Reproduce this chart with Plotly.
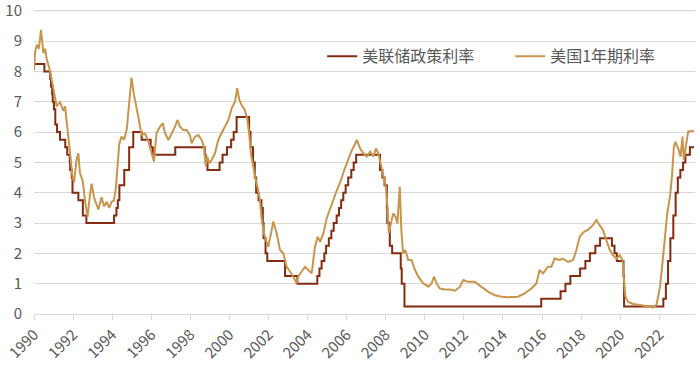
import plotly.graph_objects as go

# 美联储政策利率 (step changes: decimal year, rate %)
fed_years = [1990.00, 1990.53, 1990.83, 1990.87, 1990.93, 1990.96, 1991.02, 1991.09, 1991.18, 1991.33,
             1991.60, 1991.70, 1991.83, 1991.85, 1991.93, 1991.97, 1992.27, 1992.50, 1992.68, 1994.10,
             1994.22, 1994.29, 1994.37, 1994.62, 1994.87, 1995.08, 1995.51, 1995.97, 1996.08, 1997.23,
             1998.74, 1998.79, 1998.88, 1999.50, 1999.65, 1999.88, 2000.09, 2000.22, 2000.37, 2001.01,
             2001.08, 2001.21, 2001.30, 2001.37, 2001.49, 2001.64, 2001.71, 2001.75, 2001.85, 2001.94,
             2002.85, 2003.48, 2004.50, 2004.61, 2004.72, 2004.86, 2004.95, 2005.09, 2005.22, 2005.34,
             2005.49, 2005.61, 2005.72, 2005.83, 2005.95, 2006.08, 2006.24, 2006.36, 2006.49, 2007.71,
             2007.83, 2007.94, 2008.06, 2008.08, 2008.21, 2008.33, 2008.77, 2008.82, 2008.96, 2015.96,
             2016.95, 2017.20, 2017.45, 2017.95, 2018.22, 2018.45, 2018.73, 2018.97, 2019.58, 2019.71,
             2019.83, 2020.17, 2020.20, 2022.21, 2022.34, 2022.45, 2022.57, 2022.72, 2022.84, 2022.95,
             2023.08, 2023.22, 2023.34, 2023.57, 2023.78]
fed_rates = [8.25, 8.00, 7.75, 7.50, 7.25, 7.00, 6.75, 6.25, 6.00, 5.75,
             5.50, 5.25, 5.00, 4.75, 4.50, 4.00, 3.75, 3.25, 3.00, 3.25,
             3.50, 3.75, 4.25, 4.75, 5.50, 6.00, 5.75, 5.50, 5.25, 5.50,
             5.25, 5.00, 4.75, 5.00, 5.25, 5.50, 5.75, 6.00, 6.50, 6.00,
             5.50, 5.00, 4.50, 4.00, 3.75, 3.50, 3.00, 2.50, 2.00, 1.75,
             1.25, 1.00, 1.25, 1.50, 1.75, 2.00, 2.25, 2.50, 2.75, 3.00,
             3.25, 3.50, 3.75, 4.00, 4.25, 4.50, 4.75, 5.00, 5.25, 4.75,
             4.50, 4.25, 3.50, 3.00, 2.25, 2.00, 1.50, 1.00, 0.25, 0.50,
             0.75, 1.00, 1.25, 1.50, 1.75, 2.00, 2.25, 2.50, 2.25, 2.00,
             1.75, 1.25, 0.25, 0.50, 1.00, 1.75, 2.50, 3.25, 4.00, 4.50,
             4.75, 5.00, 5.25, 5.50, 5.50]

# 美国1年期利率 (decimal year, yield %)
ust_years = [1990.00, 1990.06, 1990.15, 1990.25, 1990.36, 1990.48, 1990.57, 1990.65, 1990.81, 1990.96,
             1991.08, 1991.16, 1991.33, 1991.50, 1991.59, 1991.67, 1991.81, 1991.88, 1991.96, 1992.05,
             1992.18, 1992.27, 1992.35, 1992.49, 1992.61, 1992.74, 1992.87, 1992.95, 1993.07, 1993.21,
             1993.29, 1993.46, 1993.58, 1993.72, 1993.85, 1993.97, 1994.09, 1994.19, 1994.26, 1994.36,
             1994.48, 1994.61, 1994.75, 1994.88, 1994.99, 1995.11, 1995.25, 1995.37, 1995.51, 1995.68,
             1995.85, 1996.02, 1996.14, 1996.27, 1996.45, 1996.59, 1996.71, 1996.88, 1997.05, 1997.22,
             1997.34, 1997.47, 1997.64, 1997.81, 1997.98, 1998.07, 1998.24, 1998.41, 1998.58, 1998.70,
             1998.80, 1998.87, 1998.97, 1999.09, 1999.26, 1999.43, 1999.60, 1999.78, 1999.95, 2000.12,
             2000.29, 2000.40, 2000.51, 2000.62, 2000.79, 2000.91, 2001.01, 2001.10, 2001.22, 2001.35,
             2001.47, 2001.56, 2001.66, 2001.77, 2001.87, 2001.99, 2002.13, 2002.25, 2002.42, 2002.59,
             2002.76, 2002.93, 2003.10, 2003.27, 2003.44, 2003.52, 2003.70, 2003.87, 2004.04, 2004.21,
             2004.38, 2004.52, 2004.64, 2004.81, 2004.98, 2005.15, 2005.32, 2005.44, 2005.58, 2005.71,
             2005.88, 2006.06, 2006.23, 2006.40, 2006.52, 2006.69, 2006.86, 2007.03, 2007.20, 2007.37,
             2007.50, 2007.62, 2007.77, 2007.89, 2008.01, 2008.09, 2008.16, 2008.27, 2008.39, 2008.50,
             2008.60, 2008.72, 2008.80, 2008.89, 2009.01, 2009.15, 2009.32, 2009.50, 2009.67, 2009.92,
             2010.18, 2010.35, 2010.47, 2010.60, 2010.77, 2011.03, 2011.29, 2011.55, 2011.80, 2011.97,
             2012.22, 2012.56, 2012.91, 2013.25, 2013.59, 2013.93, 2014.26, 2014.77, 2015.11, 2015.46,
             2015.71, 2015.88, 2016.05, 2016.31, 2016.48, 2016.65, 2016.90, 2017.07, 2017.33, 2017.59,
             2017.76, 2017.93, 2018.15, 2018.35, 2018.61, 2018.78, 2018.95, 2019.12, 2019.29, 2019.47,
             2019.63, 2019.81, 2019.98, 2020.12, 2020.21, 2020.27, 2020.41, 2020.67, 2021.01, 2021.35,
             2021.69, 2021.86, 2022.04, 2022.18, 2022.29, 2022.41, 2022.55, 2022.65, 2022.75, 2022.82,
             2022.97, 2023.09, 2023.19, 2023.26, 2023.36, 2023.48, 2023.78]
ust_rates = [8.05, 8.66, 8.88, 8.75, 9.37, 8.60, 8.75, 8.40, 8.05, 7.50,
             7.20, 6.85, 7.00, 6.70, 6.85, 6.40, 5.65, 5.10, 4.55, 4.35,
             5.10, 5.30, 4.65, 4.40, 3.75, 3.20, 3.95, 4.30, 3.85, 3.55,
             3.45, 3.85, 3.55, 3.70, 3.50, 3.70, 3.75, 4.15, 4.80, 5.60,
             5.85, 5.75, 6.10, 7.10, 7.80, 7.25, 6.85, 6.40, 5.90, 5.95,
             5.70, 5.35, 5.03, 5.96, 6.18, 6.29, 5.96, 5.74, 5.96, 6.18,
             6.40, 6.18, 6.07, 6.07, 5.90, 5.63, 5.85, 5.90, 5.74, 5.52,
             4.86, 5.19, 4.97, 5.08, 5.30, 5.74, 5.96, 6.18, 6.40, 6.79,
             7.00, 7.45, 7.06, 6.90, 6.73, 6.45, 5.96, 5.30, 4.86, 4.42,
             4.09, 3.76, 3.10, 2.66, 2.44, 2.22, 2.66, 3.05, 2.66, 2.11,
             2.00, 1.56, 1.40, 1.23, 1.01, 1.23, 1.40, 1.56, 1.45, 1.34,
             2.22, 2.55, 2.38, 2.66, 3.16, 3.43, 3.76, 3.98, 4.20, 4.42,
             4.75, 5.08, 5.35, 5.57, 5.74, 5.46, 5.30, 5.19, 5.35, 5.19,
             5.46, 5.30, 4.86, 4.53, 4.20, 3.54, 2.66, 2.99, 3.32, 3.21,
             2.99, 4.20, 2.77, 2.00, 2.11, 1.78, 1.78, 1.45, 1.23, 1.01,
             0.90, 1.01, 1.23, 1.01, 0.84, 0.81, 0.81, 0.77, 0.90, 1.12,
             1.06, 1.06, 0.90, 0.73, 0.62, 0.57, 0.55, 0.57, 0.68, 0.84,
             1.01, 1.45, 1.34, 1.56, 1.56, 1.83, 1.78, 1.83, 1.72, 1.78,
             2.11, 2.55, 2.71, 2.77, 2.93, 3.10, 2.93, 2.77, 2.44, 2.11,
             1.94, 1.83, 1.94, 1.78, 1.01, 0.57, 0.40, 0.33, 0.30, 0.27,
             0.22, 0.30, 0.90, 1.78, 2.55, 3.32, 3.87, 4.53, 5.52, 5.68,
             5.46, 5.19, 5.85, 5.08, 5.52, 6.02, 6.04]

x_tick_vals = list(range(1990, 2024, 2))
x_tick_text = [str(v) for v in x_tick_vals]
y_tick_vals = list(range(0, 11))
y_top = y_tick_vals[-1]

RED = "#842B10"
GOLD = "#C9954C"
GRID = "#D9D9D9"
TXT = "#595959"
FONT = "Noto Sans CJK SC"

fig = go.Figure()
fig.add_trace(go.Scatter(x=fed_years, y=fed_rates, mode="lines", name="美联储政策利率",
                         line=dict(color=RED, width=2, shape="hv")))
fig.add_trace(go.Scatter(x=ust_years, y=ust_rates, mode="lines", name="美国1年期利率",
                         line=dict(color=GOLD, width=2)))

# top gridline (plotly drops gridlines lying on the plot edge)
fig.add_shape(type="line", xref="x", x0=1990, x1=2023.83, yref="y", y0=y_top, y1=y_top,
              line=dict(color=GRID, width=1), layer="between")

fig.update_layout(
    width=700, height=369,
    margin=dict(l=34, r=5, t=9, b=55, autoexpand=False),
    paper_bgcolor="white", plot_bgcolor="white",
    font=dict(family=FONT, color=TXT, size=15),
    showlegend=True,
    legend=dict(orientation="h", x=0.436, xanchor="left", y=0.845, yanchor="middle",
                font=dict(size=16, color=TXT, family=FONT), bgcolor="rgba(0,0,0,0)",
                entrywidth=143, entrywidthmode="pixels"),
    xaxis=dict(range=[1990, 2023.83], tickmode="array", tickvals=x_tick_vals, ticktext=x_tick_text,
               tickangle=-45, showgrid=False, zeroline=False, showline=True, linecolor=GRID,
               linewidth=1, ticks="outside", ticklen=5, tickcolor=GRID, automargin=False,
               ticklabeloverflow="allow",
               tickfont=dict(size=15, color=TXT, family=FONT)),
    yaxis=dict(range=[0, 10.06], tickmode="array", tickvals=y_tick_vals, showgrid=True,
               gridcolor=GRID, gridwidth=1, zeroline=False, showline=False,
               ticks="outside", ticklen=8, tickcolor="rgba(0,0,0,0)",
               automargin=False, ticklabeloverflow="allow",
               tickfont=dict(size=15, color=TXT, family=FONT)),
)

fig.write_html("out.html", config={"displayModeBar": False},
               post_script="document.body.style.margin='0px';")
